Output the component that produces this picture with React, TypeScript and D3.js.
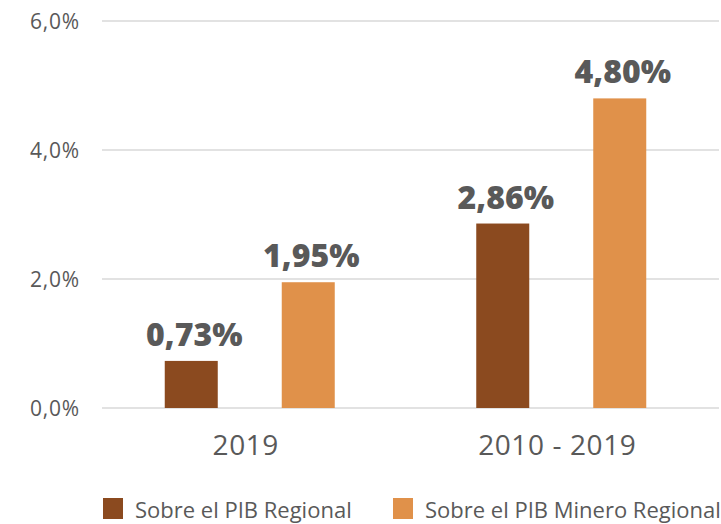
import React from "react";
import * as d3 from "d3";

const categories = ["2019", "2010 - 2019"];
const seriesNames = ["Sobre el PIB Regional", "Sobre el PIB Minero Regional"];
const regional = [0.73, 2.86];
const mineroRegional = [1.95, 4.8];
const yTicks = [0, 2, 4, 6];
const colors = ["#8B4A1F", "#E0914A"];

const W = 721;
const H = 524;

export default function App() {
  const x = d3.scaleBand<string>().domain(categories).range([94, 717]).padding(0);
  const y = d3.scaleLinear().domain([0, 6]).range([408, 21]);
  const fmtTick = (v: number) => v.toFixed(1).replace(".", ",") + "%";
  const fmtVal = (v: number) => v.toFixed(2).replace(".", ",") + "%";
  const barW = 53;
  const offset = 58.5;
  const series = [regional, mineroRegional];
  const text = "#595959";
  return (
    <svg width={W} height={H} style={{ position: "absolute", left: 0, top: 0, background: "#fff" }}>
      {yTicks.map((t) => (
        <g key={t}>
          <line x1={102} x2={719} y1={y(t)} y2={y(t)} stroke="#d9d9d9" strokeWidth={1.3} />
          <text x={80} y={y(t)} textAnchor="end" dominantBaseline="central" fontFamily="'Open Sans', sans-serif" fontSize={21} letterSpacing={0.8} fill={text}>
            {fmtTick(t)}
          </text>
        </g>
      ))}
      {categories.map((c, i) => {
        const cx = (x(c) as number) + x.bandwidth() / 2;
        return (
          <g key={c}>
            {series.map((s, si) => {
              const bx = cx + (si === 0 ? -offset : offset);
              return (
                <g key={si}>
                  <rect x={bx - barW / 2} y={y(s[i])} width={barW} height={y(0) - y(s[i])} fill={colors[si]} />
                  <text x={bx + 3} y={y(s[i]) - 15} textAnchor="middle" fontFamily="'Open Sans', sans-serif" fontWeight={800} fontSize={32} fill={text}>
                    {fmtVal(s[i])}
                  </text>
                </g>
              );
            })}
            <text x={cx - 4} y={455} textAnchor="middle" fontFamily="'Open Sans', sans-serif" fontSize={28} letterSpacing={0.6} fill={text}>
              {c}
            </text>
          </g>
        );
      })}
      {seriesNames.map((n, i) => {
        const lx = i === 0 ? 103 : 393;
        return (
          <g key={n}>
            <rect x={lx} y={498} width={20} height={21} fill={colors[i]} />
            <text x={lx + 32} y={509} dominantBaseline="central" fontFamily="'Open Sans', sans-serif" fontSize={22} fill={text}>
              {n}
            </text>
          </g>
        );
      })}
    </svg>
  );
}
